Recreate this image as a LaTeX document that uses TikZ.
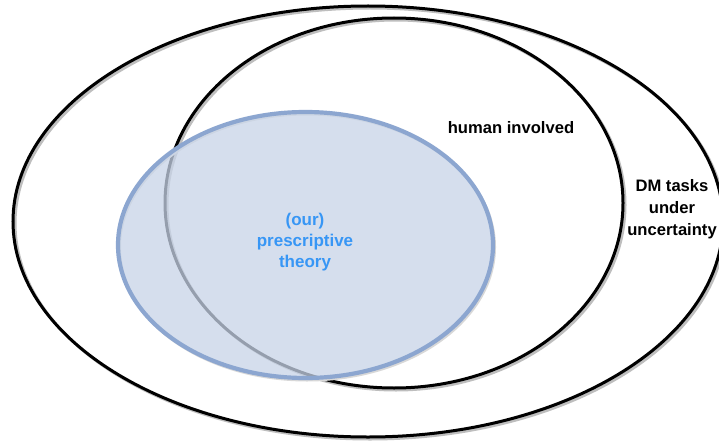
\documentclass[tikz,border=0pt]{standalone}
\usepackage{fontspec}
\setmainfont{Liberation Sans}
\usetikzlibrary{shapes.geometric}
\definecolor{bfill}{RGB}{200,212,232}
\definecolor{bline}{RGB}{140,166,208}
\definecolor{btext}{RGB}{55,150,245}
\definecolor{shad}{RGB}{190,190,190}
\begin{document}
\begin{tikzpicture}[x=1pt,y=-1pt,
  setbox/.style={ellipse, draw=black, line width=3pt, inner sep=0pt},
  shadbox/.style={ellipse, draw=shad, line width=3pt, inner sep=0pt},
  lbl/.style={font=\fontsize{16.6}{22}\selectfont\bfseries, align=center, inner sep=0pt}]
\useasboundingbox (0,0) rectangle (719,441);
\fill[white] (0,0) rectangle (719,441);
% outer
\node[shadbox, minimum width=710pt, minimum height=431pt] (outerS) at (370,223.5) {};
\node[setbox, minimum width=710pt, minimum height=431pt] (outer) at (368,221.5) {};
% middle
\node[shadbox, minimum width=458pt, minimum height=370pt] (midS) at (396,205) {};
\node[setbox, minimum width=458pt, minimum height=370pt] (mid) at (394,203) {};
% blue
\node[ellipse, inner sep=0pt, draw=shad!60, line width=3pt, minimum width=375pt, minimum height=266pt] (blueS) at (307,247) {};
\node[ellipse, inner sep=0pt, fill=bfill, fill opacity=0.75, draw=bline, line width=4.2pt, minimum width=375pt, minimum height=266pt] (blue) at (305.5,245) {};
% labels
\node[lbl] (human) at (511,128) {human involved};
\node[lbl] (dm) at (672,209) {DM tasks\\under\\uncertainty};
\node[lbl, text=btext, font=\fontsize{17}{21}\selectfont\bfseries] (theory) at (305,242) {(our)\\prescriptive\\theory};
\end{tikzpicture}
\end{document}
